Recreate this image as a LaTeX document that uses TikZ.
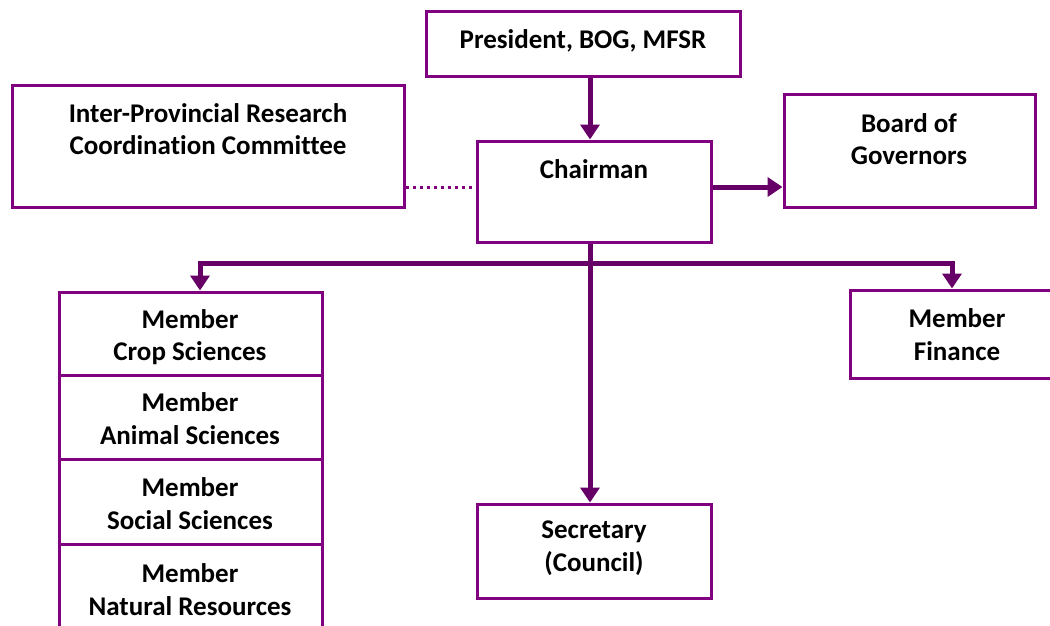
\documentclass[tikz,border=0pt]{standalone}
\usepackage{fontspec}
\setmainfont{Carlito}[Ligatures=NoCommon]
\usetikzlibrary{arrows.meta}
\definecolor{boxpurple}{RGB}{128,0,128}
\definecolor{linkpurple}{RGB}{102,0,102}

\begin{document}
\begin{tikzpicture}[x=1pt,y=-1pt,
  box/.style={draw=boxpurple, line width=3pt, fill=white, inner sep=0pt},
  lbl/.style={font=\fontsize{27}{32.5}\selectfont\bfseries, align=center, text=black, inner sep=0pt},
  conn/.style={draw=linkpurple, line width=5pt, line join=miter},
  tip/.style={-{Triangle[width=19pt,length=15pt]}},
  tips/.style={{Triangle[width=19pt,length=15pt]}-{Triangle[width=19pt,length=15pt]}},
  link/.style={draw=boxpurple, line width=3pt, dash pattern=on 3pt off 4pt}
]
\useasboundingbox (0,0) rectangle (1050,626);

% top of the hierarchy
\node[box, minimum width=314pt, minimum height=65pt] (pres) at (583,44.5) {};
\node[lbl] (presT) at (583,41) {President, BOG, MFSR};

\node[box, minimum width=392pt, minimum height=121pt] (ipr) at (208,146.5) {};
\node[lbl] (iprT) at (208,129) {Inter-Provincial Research\\Coordination Committee};

\node[box, minimum width=234pt, minimum height=101pt] (chair) at (594,191.5) {};
\node[lbl] (chairT) at (594,169) {Chairman};

\node[box, minimum width=251pt, minimum height=112pt] (bog) at (909.5,151) {};
\node[lbl] (bogT) at (909,139) {Board of\\Governors};

% members
\node[box, minimum width=263pt, minimum height=83pt] (crop) at (190.5,333.5) {};
\node[lbl] (cropT) at (190,337) {Member\\Crop Sciences};
\node[box, minimum width=263pt, minimum height=84pt] (anim) at (190.5,417) {};
\node[lbl] (animT) at (190,418.5) {Member\\Animal Sciences};
\node[box, minimum width=263pt, minimum height=85pt] (soc) at (190.5,501.5) {};
\node[lbl] (socT) at (190,503.5) {Member\\Social Sciences};
\node[box, minimum width=263pt, minimum height=85pt] (nat) at (190.5,586.5) {};
\node[lbl] (natT) at (190,589.5) {Member\\Natural Resources};

\node[box, minimum width=214pt, minimum height=88pt] (fin) at (957,334) {};
\node[lbl] (finT) at (957,334.5) {Member\\Finance};

\node[box, minimum width=234pt, minimum height=94pt] (sec) at (594,551) {};
\node[lbl] (secT) at (594,548) {Secretary\\(Council)};

% branch points
\coordinate (spine) at (590,263);
\coordinate (lvl) at (590,187);
\coordinate (lb) at (200,263);
\coordinate (rb) at (952,263);

% connectors
\draw[conn, tip] (pres.south -| spine) -- (chair.north -| spine);
\draw[conn, tip] (chair.east |- lvl) -- (bog.west |- lvl);
\draw[link] (ipr.east |- lvl) -- (chair.west |- lvl);
\draw[conn] (chair.south -| spine) -- (spine);
\draw[conn, tips] (crop.north -| lb) -- (lb) -- (rb) -- (fin.north -| rb);
\draw[conn, tip] (spine) -- (sec.north -| spine);
\end{tikzpicture}
\end{document}
